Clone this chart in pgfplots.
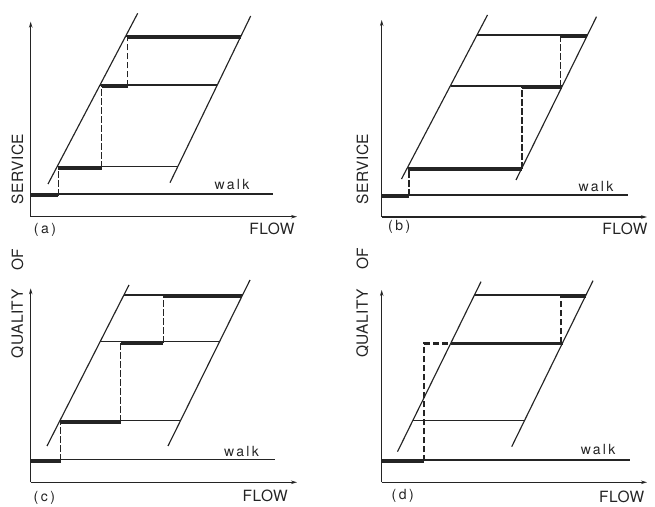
\documentclass[border=0pt]{standalone}
\usepackage{fontspec}
\setmainfont{TeX Gyre Heros}
\newfontfamily\capf[LetterSpace=3]{TeX Gyre Heros}
\newfontfamily\walkf[LetterSpace=16]{TeX Gyre Heros}
\newfontfamily\tagf[LetterSpace=18]{TeX Gyre Heros}
\usepackage{pgfplots}
\pgfplotsset{compat=1.18}
\usetikzlibrary{arrows.meta}
\definecolor{ink}{gray}{0.14}
\tikzset{
 thinl/.style={line width=1.15bp, color=ink},
 thickl/.style={line width=3.5bp, color=ink},
 dashl/.style={line width=1.5bp, color=ink, dash pattern=on 6.5bp off 2.5bp},
 thickdash/.style={line width=3.5bp, color=ink, dash pattern=on 6bp off 3bp},
}
\pgfplotsset{panel/.style={anchor=south west, x=1bp, y=1bp, axis lines=left, ticks=none, clip=false, no markers,
  axis line style={line width=1.15bp, color=ink, -{Stealth[length=6bp,width=3.5bp]}}}}
\newcommand{\caplab}[1]{{\capf\fontsize{15.5bp}{18bp}\selectfont\color{ink}#1}}
\newcommand{\walklab}{{\walkf\fontsize{14bp}{16bp}\selectfont\color{ink}walk}}
\newcommand{\taglab}[1]{{\tagf\fontsize{14bp}{16bp}\selectfont\color{ink}#1}}
\begin{document}
\begin{tikzpicture}
\useasboundingbox (0,0) rectangle (655bp,507bp);
% ---------------- (a)
\begin{axis}[panel, at={(30.7bp,290.3bp)}, xmin=30.7, xmax=297, ymin=290.3, ymax=485.3]
\addplot[thinl] coordinates {(48,323) (137.7,493.7)};
\addplot[thinl] coordinates {(170,324.3) (250.7,491)};
\addplot[thinl] coordinates {(30.7,313) (273,313)};
\addplot[thinl] coordinates {(57.1,340.3) (177.7,340.3)};
\addplot[thinl] coordinates {(100.2,422) (217.3,422)};
\addplot[thinl] coordinates {(125.9,471) (241,471)};
\addplot[thickl] coordinates {(30.7,311.3) (58.3,311.3)};
\addplot[thickl] coordinates {(58.3,339.2) (101.7,339.2)};
\addplot[thickl] coordinates {(101.7,420.6) (127.7,420.6)};
\addplot[thickl] coordinates {(127.7,469.8) (241,469.8)};
\addplot[dashl] coordinates {(58.3,311.3) (58.3,339.2)};
\addplot[dashl] coordinates {(101.7,339.2) (101.7,421)};
\addplot[dashl] coordinates {(127.7,420.6) (127.7,470)};
\node[anchor=base] at (axis cs:232,317) {\walklab};
\node[anchor=base] at (axis cs:272,272) {\caplab{FLOW}};
\node[anchor=base] at (axis cs:45,273) {\taglab{(a)}};
\node[rotate=90] at (axis cs:17.5,338) {\caplab{SERVICE}};
\node[rotate=90] at (axis cs:17.5,247) {\caplab{OF}};
\node[rotate=90] at (axis cs:17.5,183) {\caplab{QUALITY}};
\end{axis}
% ---------------- (b)
\begin{axis}[panel, at={(381.7bp,290bp)}, xmin=381.7, xmax=647, ymin=290, ymax=487]
\addplot[thinl] coordinates {(401.5,328) (487.5,492)};
\addplot[thinl] coordinates {(516,327) (596.5,490.3)};
\addplot[thinl] coordinates {(381.7,312) (628.3,312)};
\addplot[thinl] coordinates {(407.5,338.7) (521.8,338.7)};
\addplot[thinl] coordinates {(450.5,421) (562.3,421)};
\addplot[thinl] coordinates {(476.8,472) (587.5,472)};
\addplot[thickl] coordinates {(381.7,310.8) (409,310.8)};
\addplot[thickl] coordinates {(408,337.8) (521.8,337.8)};
\addplot[thickl] coordinates {(521.8,419.8) (562,419.8)};
\addplot[thickl] coordinates {(560.5,470.5) (587,470.5)};
\addplot[dashl] coordinates {(409,311) (409,338)};
\addplot[dashl] coordinates {(521.8,338) (521.8,421)};
\addplot[dashl] coordinates {(560.5,420) (560.5,472)};
\node[anchor=base] at (axis cs:596,315.3) {\walklab};
\node[anchor=base] at (axis cs:625,272) {\caplab{FLOW}};
\node[anchor=base] at (axis cs:399.3,276) {\taglab{(b)}};
\node[rotate=90] at (axis cs:362.5,338) {\caplab{SERVICE}};
\node[rotate=90] at (axis cs:362.5,248) {\caplab{OF}};
\node[rotate=90] at (axis cs:362.5,183.5) {\caplab{QUALITY}};
\end{axis}
% ---------------- (c)
\begin{axis}[panel, at={(30.7bp,24.7bp)}, xmin=30.7, xmax=297, ymin=24.7, ymax=218.7]
\addplot[thinl] coordinates {(47,61) (129,222)};
\addplot[thinl] coordinates {(168,61) (250,227)};
\addplot[thinl] coordinates {(30.7,47.7) (275,47.7)};
\addplot[thinl] coordinates {(59.9,86.3) (180.5,86.3)};
\addplot[thinl] coordinates {(100.1,165.3) (219.5,165.3)};
\addplot[thinl] coordinates {(123.9,212) (242.6,212)};
\addplot[thickl] coordinates {(30.7,46) (60.7,46)};
\addplot[thickl] coordinates {(60.7,84.8) (120.7,84.8)};
\addplot[thickl] coordinates {(120.7,163.8) (163.3,163.8)};
\addplot[thickl] coordinates {(163.3,210.5) (242,210.5)};
\addplot[dashl] coordinates {(60.7,46) (60.7,86)};
\addplot[dashl] coordinates {(120.7,85) (120.7,165)};
\addplot[dashl] coordinates {(163.3,164) (163.3,212)};
\node[anchor=base] at (axis cs:241.5,51) {\walklab};
\node[anchor=base] at (axis cs:265.3,5.3) {\caplab{FLOW}};
\node[anchor=base] at (axis cs:44.3,6) {\taglab{(c)}};
\end{axis}
% ---------------- (d)
\begin{axis}[panel, at={(381.7bp,24.7bp)}, xmin=381.7, xmax=647, ymin=24.7, ymax=217]
\addplot[thinl] coordinates {(397.5,55.3) (481,225.3)};
\addplot[thinl] coordinates {(511.7,60.3) (593,226.3)};
\addplot[thinl] coordinates {(381.7,47) (630,47)};
\addplot[thinl] coordinates {(412.7,86.3) (524.4,86.3)};
\addplot[thinl] coordinates {(451,164.3) (562.7,164.3)};
\addplot[thinl] coordinates {(474.4,212) (586,212)};
\addplot[thickl] coordinates {(381.7,45.5) (424,45.5)};
\addplot[thickdash] coordinates {(424,163.5) (451,163.5)};
\addplot[thickl] coordinates {(451,163.5) (562.5,163.5)};
\addplot[thickl] coordinates {(561,210.3) (586,210.3)};
\addplot[dashl] coordinates {(424,45.5) (424,164.5)};
\addplot[dashl] coordinates {(561,163.5) (561,212)};
\node[anchor=base] at (axis cs:598,52) {\walklab};
\node[anchor=base] at (axis cs:621.7,4.3) {\caplab{FLOW}};
\node[anchor=base] at (axis cs:402.7,7) {\taglab{(d)}};
\end{axis}
\end{tikzpicture}
\end{document}
